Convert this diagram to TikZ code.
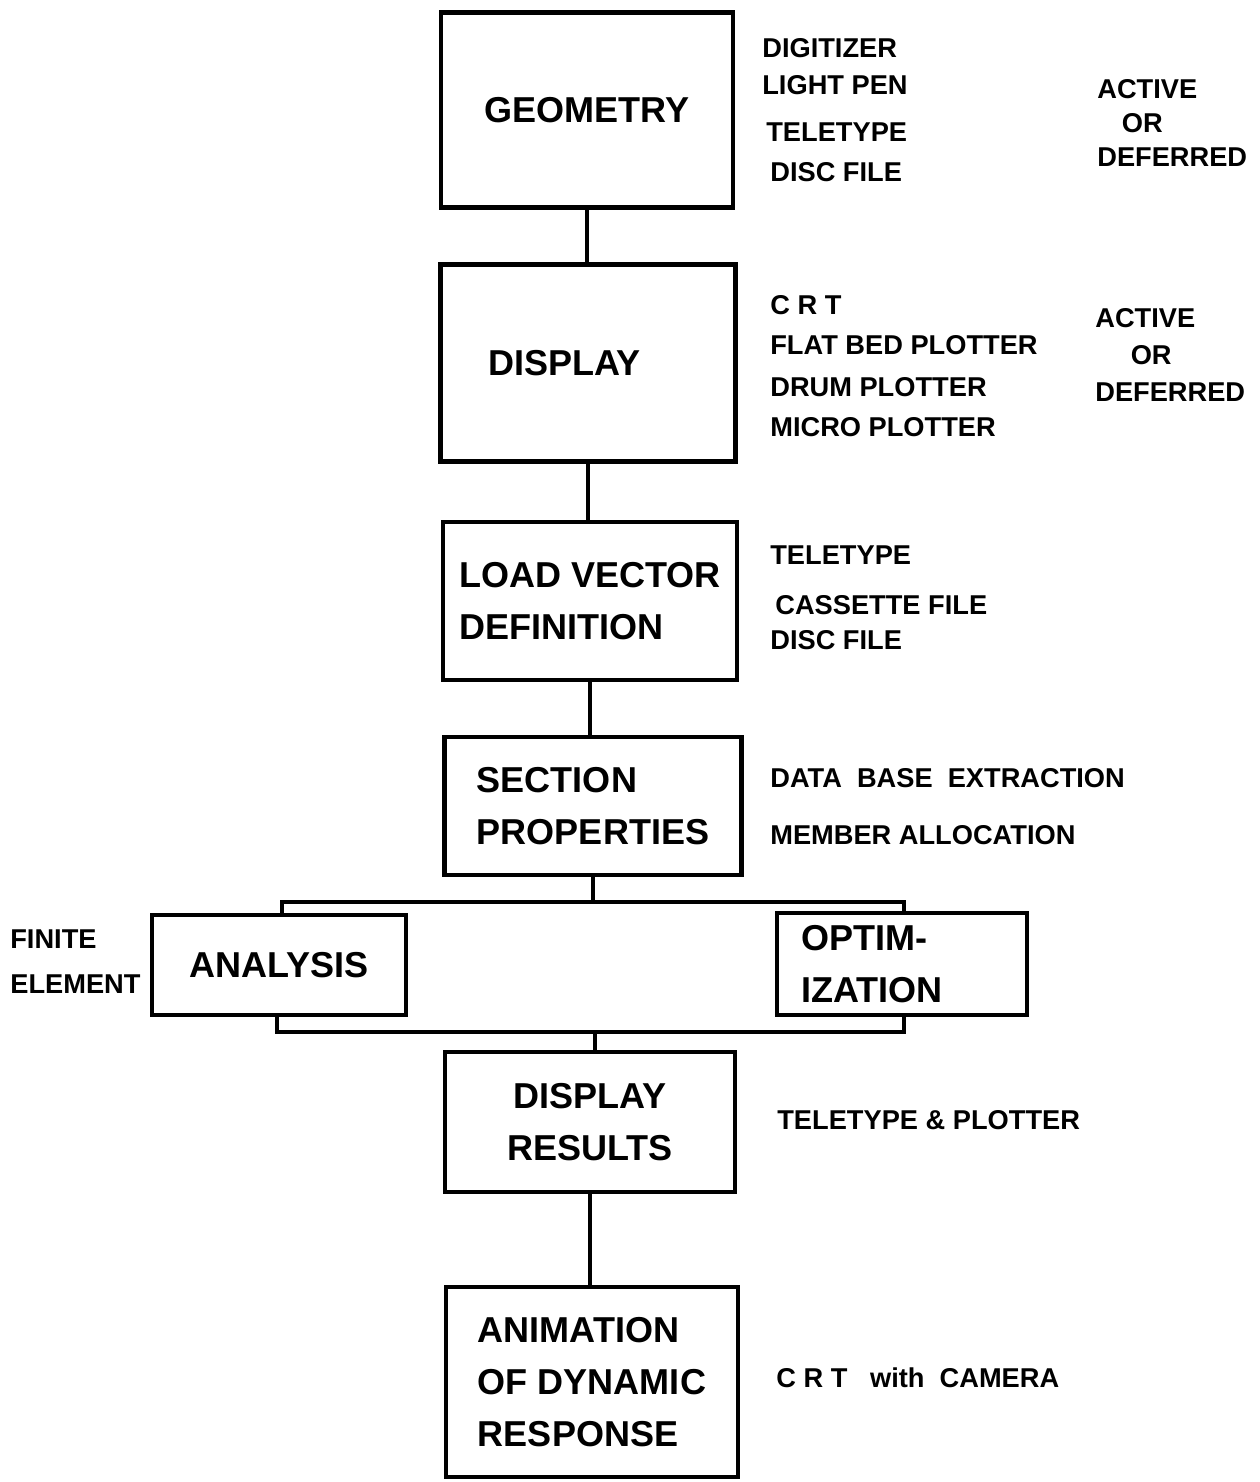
\documentclass[tikz,border=0pt]{standalone}
\usepackage{fontspec}
\setmainfont{Liberation Sans}
\usetikzlibrary{positioning}
\newcommand\stagefont{\fontsize{20.5}{29.6}\selectfont\bfseries}
\newcommand\devfont{\fontsize{15.5}{20.5}\selectfont\bfseries}

\begin{document}
\begin{tikzpicture}[x=0.02cm, y=-0.02cm,
    stage/.style={draw, line width=2.4pt, font=\stagefont, align=left, inner sep=0pt},
    device/.style={anchor=west, font=\devfont, inner sep=0pt, align=left},
    link/.style={line width=1.8pt}]
  \useasboundingbox (0,0) rectangle (1260,1482);
  % main chain of stages
  \node[stage, minimum width=5.84cm, minimum height=3.9cm]  (geom) at (587,110)   {GEOMETRY};
  \node[stage, minimum width=5.9cm,  minimum height=3.94cm, text width=4cm] (disp) at (588,363) {DISPLAY};
  \node[stage, minimum width=5.88cm, minimum height=3.16cm] (load) at (590,601)   {LOAD VECTOR\\DEFINITION};
  \node[stage, minimum width=5.94cm, minimum height=2.76cm] (sect) at (593,806)   {SECTION\\PROPERTIES};
  \node[stage, minimum width=5.08cm, minimum height=2cm]    (anal) at (279,965)   {ANALYSIS};
  \node[stage, minimum width=5cm,    minimum height=2.04cm, text width=4.04cm] (optm) at (902,964) {OPTIM-\\IZATION};
  \node[stage, minimum width=5.8cm,  minimum height=2.8cm, align=center] (dres) at (590,1122) {DISPLAY\\RESULTS};
  \node[stage, minimum width=5.84cm, minimum height=3.8cm]  (anim) at (592,1382)  {ANIMATION\\OF DYNAMIC\\RESPONSE};

  \coordinate (tl) at (282,902);  \coordinate (tr) at (904,902);
  \coordinate (bl) at (277,1032); \coordinate (br) at (904,1032);
  \coordinate (mid) at (595,1040);

  \draw[link] (geom.south) -- (geom.south |- disp.north);
  \draw[link] (disp.south) -- (disp.south |- load.north);
  \draw[link] (load.south) -- (load.south |- sect.north);
  \draw[link] (sect.south) -- (sect.south |- tl);
  \draw[link] (anal.north -| tl) -- (tl) -- (tr) -- (optm.north -| tr);
  \draw[link] (anal.south -| bl) -- (bl) -- (br) -- (optm.south -| br);
  \draw[link] (mid |- bl) -- (mid |- dres.north);
  \draw[link] (dres.south) -- (dres.south |- anim.north);

  % devices beside each stage
  \foreach \txt/\xx/\yy [count=\i] in {DIGITIZER/762/48, LIGHT PEN/762/85, TELETYPE/766/132, DISC FILE/770/172}
    \node[device] (gdev\i) at (\xx,\yy) {\txt};
  \foreach \txt/\xx/\yy [count=\i] in {C R T/770/305, FLAT BED PLOTTER/770/345, DRUM PLOTTER/770/387, MICRO PLOTTER/770/427}
    \node[device] (ddev\i) at (\xx,\yy) {\txt};
  \foreach \txt/\xx/\yy [count=\i] in {TELETYPE/770/555, CASSETTE FILE/775/605, DISC FILE/770/640}
    \node[device] (ldev\i) at (\xx,\yy) {\txt};
  \node[device] (sdev1) at (770,778) {DATA\ \ BASE\ \ EXTRACTION};
  \node[device] (sdev2) at (770,835) {MEMBER ALLOCATION};
  \node[device] (rdev)  at (777,1120) {TELETYPE \& PLOTTER};
  \node[device] (adev)  at (776,1378) {C R T\ \ \ with\ \ CAMERA};

  \node[device, font=\fontsize{15.5}{19.5}\selectfont\bfseries] (gmode) at (1097,123) {ACTIVE\\\hspace{0.9em}OR\\DEFERRED};
  \node[device, font=\fontsize{15.5}{21}\selectfont\bfseries]   (dmode) at (1095,355) {ACTIVE\\\hspace{1.3em}OR\\DEFERRED};
  \node[device, font=\fontsize{15.5}{25.6}\selectfont\bfseries] (fem)   at (10,962)   {FINITE\\ELEMENT};
\end{tikzpicture}
\end{document}
